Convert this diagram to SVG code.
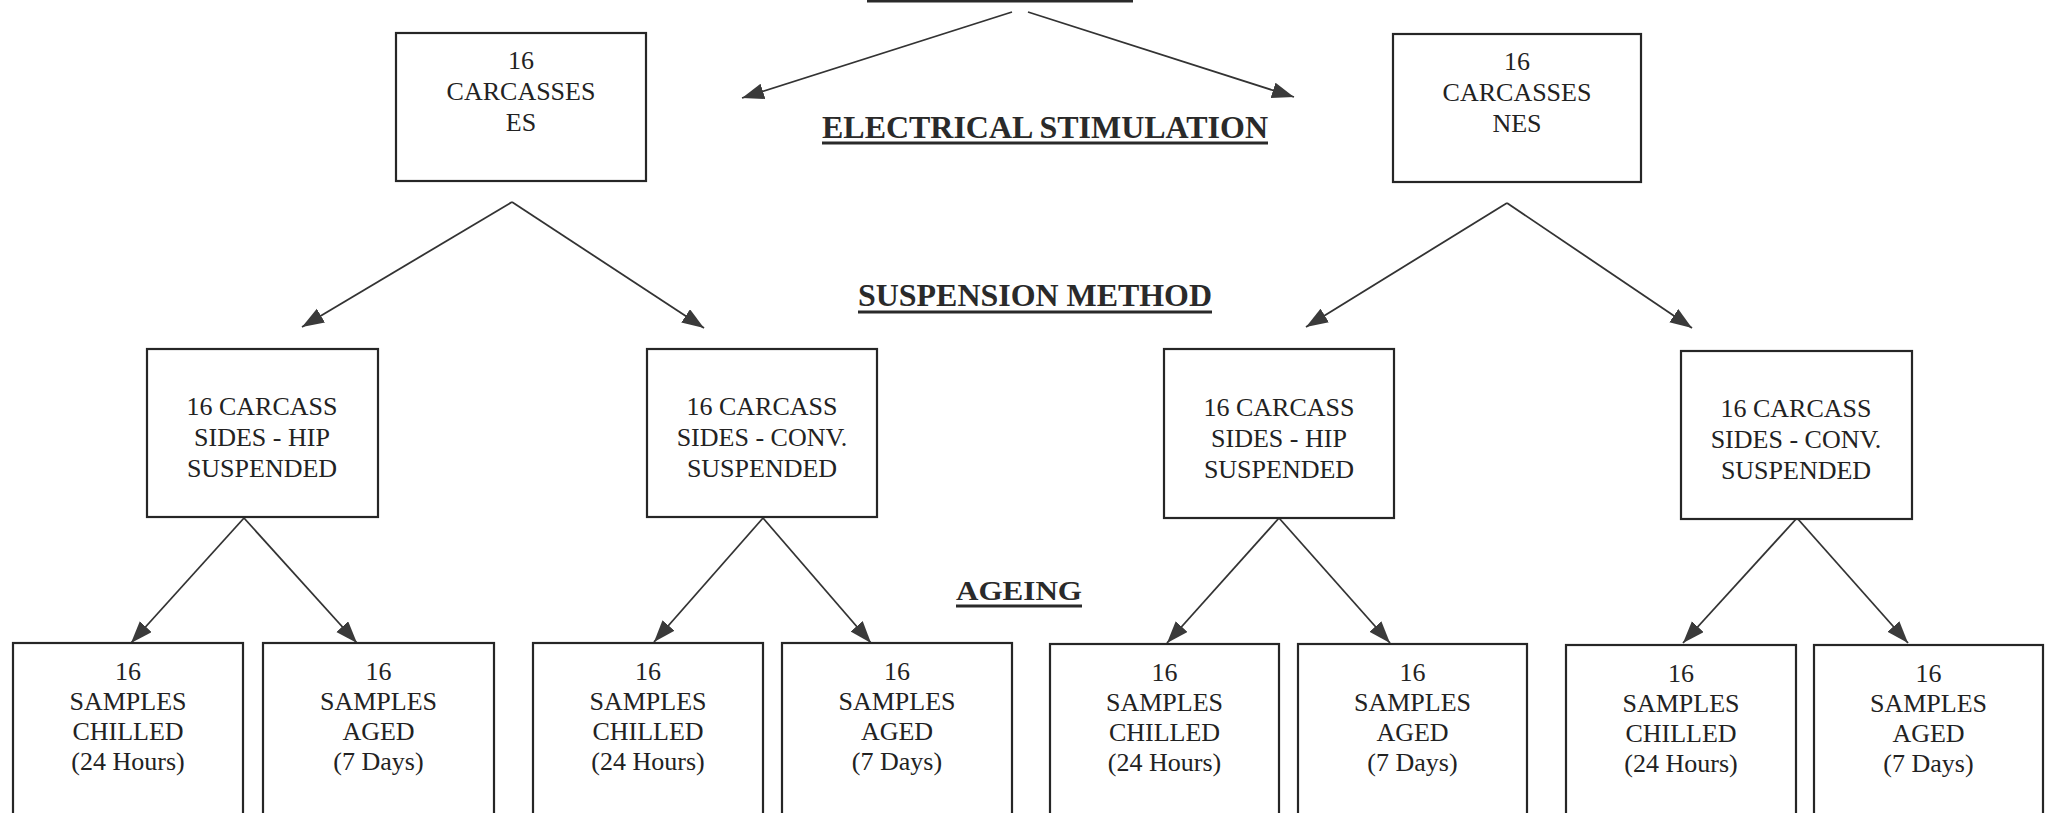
<svg xmlns="http://www.w3.org/2000/svg" width="2056" height="813" viewBox="0 0 2056 813">
<style>
.box{fill:#fff;stroke:#262626;stroke-width:2.2}
.t{font-family:"Liberation Serif","Times New Roman",serif;font-size:26px;fill:#222;text-anchor:middle}
.lbl{font-family:"Liberation Serif","Times New Roman",serif;font-size:31.5px;font-weight:bold;fill:#2a2a2a}
.ul{stroke:#2a2a2a;stroke-width:3}
.c{stroke:#333;stroke-width:1.8;fill:none;marker-end:url(#ah)}
</style>
<defs>
<marker id="ah" markerUnits="userSpaceOnUse" markerWidth="24" markerHeight="18" refX="22" refY="8" orient="auto">
<path d="M0,0 L22,8 L0,16 z" fill="#3a3a3a"/>
</marker>
</defs>
<rect width="2056" height="813" fill="#fff"/>

<g id="title-underline"><line class="ul" x1="867" y1="1" x2="1133" y2="1"/></g>

<g id="labels">
<text class="lbl" x="822" y="138" textLength="446" lengthAdjust="spacingAndGlyphs">ELECTRICAL STIMULATION</text>
<line class="ul" x1="822" y1="143" x2="1268" y2="143"/>
<text class="lbl" x="858" y="306" textLength="354" lengthAdjust="spacingAndGlyphs">SUSPENSION METHOD</text>
<line class="ul" x1="858" y1="312" x2="1212" y2="312"/>
<text class="lbl" x="956" y="600" style="font-size:28px" textLength="126" lengthAdjust="spacingAndGlyphs">AGEING</text>
<line class="ul" x1="956" y1="606" x2="1082" y2="606"/>
</g>

<g id="connectors">
<line class="c" x1="1012" y1="12" x2="742" y2="98"/>
<line class="c" x1="1028" y1="12" x2="1294" y2="97"/>
<line class="c" x1="512" y1="202" x2="302" y2="327"/>
<line class="c" x1="512" y1="202" x2="704" y2="328"/>
<line class="c" x1="1507" y1="203" x2="1306" y2="327"/>
<line class="c" x1="1507" y1="203" x2="1692" y2="328"/>
<line class="c" x1="244" y1="518" x2="131" y2="643"/>
<line class="c" x1="244" y1="518" x2="357" y2="643"/>
<line class="c" x1="763" y1="518" x2="654" y2="642"/>
<line class="c" x1="763" y1="518" x2="871" y2="643"/>
<line class="c" x1="1279" y1="518" x2="1167" y2="643"/>
<line class="c" x1="1279" y1="518" x2="1390" y2="643"/>
<line class="c" x1="1797" y1="518" x2="1683" y2="643"/>
<line class="c" x1="1797" y1="518" x2="1908" y2="643"/>
</g>

<g id="es">
<rect class="box" x="396" y="33" width="250" height="148"/>
<text class="t" x="521" y="69">16</text>
<text class="t" x="521" y="100">CARCASSES</text>
<text class="t" x="521" y="131">ES</text>
</g>
<g id="nes">
<rect class="box" x="1393" y="34" width="248" height="148"/>
<text class="t" x="1517" y="70">16</text>
<text class="t" x="1517" y="101">CARCASSES</text>
<text class="t" x="1517" y="132">NES</text>
</g>

<g id="es-hip">
<rect class="box" x="147" y="349" width="231" height="168"/>
<text class="t" x="262" y="415">16 CARCASS</text>
<text class="t" x="262" y="446">SIDES - HIP</text>
<text class="t" x="262" y="477">SUSPENDED</text>
</g>
<g id="es-conv">
<rect class="box" x="647" y="349" width="230" height="168"/>
<text class="t" x="762" y="415">16 CARCASS</text>
<text class="t" x="762" y="446">SIDES - CONV.</text>
<text class="t" x="762" y="477">SUSPENDED</text>
</g>
<g id="nes-hip">
<rect class="box" x="1164" y="349" width="230" height="169"/>
<text class="t" x="1279" y="416">16 CARCASS</text>
<text class="t" x="1279" y="447">SIDES - HIP</text>
<text class="t" x="1279" y="478">SUSPENDED</text>
</g>
<g id="nes-conv">
<rect class="box" x="1681" y="351" width="231" height="168"/>
<text class="t" x="1796" y="417">16 CARCASS</text>
<text class="t" x="1796" y="448">SIDES - CONV.</text>
<text class="t" x="1796" y="479">SUSPENDED</text>
</g>

<g id="s1">
<rect class="box" x="13" y="643" width="230" height="200"/>
<text class="t" x="128" y="680">16</text><text class="t" x="128" y="710">SAMPLES</text><text class="t" x="128" y="740">CHILLED</text><text class="t" x="128" y="770">(24 Hours)</text>
</g>
<g id="s2">
<rect class="box" x="263" y="643" width="231" height="200"/>
<text class="t" x="378.5" y="680">16</text><text class="t" x="378.5" y="710">SAMPLES</text><text class="t" x="378.5" y="740">AGED</text><text class="t" x="378.5" y="770">(7 Days)</text>
</g>
<g id="s3">
<rect class="box" x="533" y="643" width="230" height="200"/>
<text class="t" x="648" y="680">16</text><text class="t" x="648" y="710">SAMPLES</text><text class="t" x="648" y="740">CHILLED</text><text class="t" x="648" y="770">(24 Hours)</text>
</g>
<g id="s4">
<rect class="box" x="782" y="643" width="230" height="200"/>
<text class="t" x="897" y="680">16</text><text class="t" x="897" y="710">SAMPLES</text><text class="t" x="897" y="740">AGED</text><text class="t" x="897" y="770">(7 Days)</text>
</g>
<g id="s5">
<rect class="box" x="1050" y="644" width="229" height="200"/>
<text class="t" x="1164.5" y="681">16</text><text class="t" x="1164.5" y="711">SAMPLES</text><text class="t" x="1164.5" y="741">CHILLED</text><text class="t" x="1164.5" y="771">(24 Hours)</text>
</g>
<g id="s6">
<rect class="box" x="1298" y="644" width="229" height="200"/>
<text class="t" x="1412.5" y="681">16</text><text class="t" x="1412.5" y="711">SAMPLES</text><text class="t" x="1412.5" y="741">AGED</text><text class="t" x="1412.5" y="771">(7 Days)</text>
</g>
<g id="s7">
<rect class="box" x="1566" y="645" width="230" height="200"/>
<text class="t" x="1681" y="682">16</text><text class="t" x="1681" y="712">SAMPLES</text><text class="t" x="1681" y="742">CHILLED</text><text class="t" x="1681" y="772">(24 Hours)</text>
</g>
<g id="s8">
<rect class="box" x="1814" y="645" width="229" height="200"/>
<text class="t" x="1928.5" y="682">16</text><text class="t" x="1928.5" y="712">SAMPLES</text><text class="t" x="1928.5" y="742">AGED</text><text class="t" x="1928.5" y="772">(7 Days)</text>
</g>
</svg>
